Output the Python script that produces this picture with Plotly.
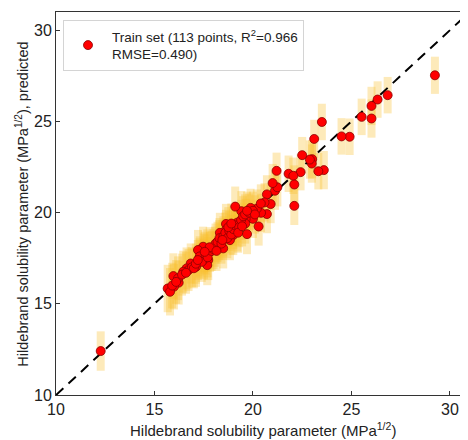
import plotly.graph_objects as go

# Measured (x) vs predicted (y) solubility parameter, with predictive spread
X_MEAS = [
    12.27, 29.24, 26.84, 26.33, 26.02, 26.02, 25.52, 24.91, 24.50, 23.50,
    23.11, 23.60, 23.32, 23.01, 22.99, 22.89, 22.50, 22.42, 21.81, 22.05,
    22.10, 22.10, 21.20, 21.12, 21.24, 21.00, 20.90, 20.71, 20.59, 20.71,
    20.41, 20.20, 20.29, 19.88, 20.00, 19.63, 19.61, 19.70, 19.41, 19.10,
    19.20, 19.20, 19.00, 19.00, 18.83, 18.63, 18.63, 18.32, 18.29, 18.49,
    18.07, 17.82, 17.68, 17.47, 17.51, 17.73, 17.68, 17.51, 17.21, 17.28,
    17.11, 16.84, 16.63, 16.73, 16.46, 16.23, 15.96, 15.99, 15.67, 15.79,
    16.90, 17.00, 17.30, 17.40, 17.60, 17.70, 17.90, 18.00, 18.10, 18.20,
    18.30, 18.40, 18.50, 18.60, 18.70, 18.80, 18.90, 19.00, 19.10, 19.30,
    19.40, 19.50, 19.60, 19.80, 20.00, 20.10, 20.40, 16.20, 16.40, 16.60,
    17.10, 17.20, 17.80, 18.15, 18.45, 18.75, 19.25, 19.45, 15.90, 16.10,
    17.55, 18.90, 19.70,
]
Y_PRED = [
    12.41, 27.53, 26.44, 26.20, 25.85, 25.16, 25.25, 24.16, 24.18, 24.97,
    24.04, 22.33, 22.27, 22.93, 22.69, 22.91, 23.15, 22.22, 22.13, 22.02,
    21.54, 20.37, 22.29, 21.20, 21.39, 21.62, 20.47, 21.00, 20.56, 19.92,
    19.99, 20.22, 19.24, 20.26, 19.66, 19.66, 19.40, 18.82, 20.08, 20.33,
    19.45, 18.97, 19.28, 18.77, 18.49, 19.38, 19.05, 18.89, 18.49, 18.04,
    18.13, 17.85, 17.98, 18.13, 17.76, 17.40, 17.12, 17.44, 17.95, 17.49,
    17.03, 17.21, 16.94, 16.85, 16.76, 16.16, 16.52, 15.94, 15.84, 15.66,
    17.00, 16.95, 17.60, 17.30, 17.70, 17.55, 17.90, 18.00, 18.30, 18.40,
    18.60, 18.30, 18.70, 18.90, 18.60, 19.00, 18.80, 19.10, 19.30, 19.20,
    19.60, 19.80, 19.90, 20.00, 20.10, 19.90, 20.50, 16.40, 16.60, 16.70,
    17.20, 17.40, 18.10, 17.90, 18.50, 19.20, 18.90, 19.25, 16.00, 16.20,
    17.85, 19.40, 20.10,
]
Y_SPREAD = [
    1.08, 1.02, 1.00, 1.00, 1.05, 1.05, 1.00, 1.00, 1.00, 1.00,
    1.05, 1.05, 1.00, 1.05, 1.05, 1.05, 1.00, 1.00, 1.00, 1.00,
    1.05, 1.05, 1.00, 1.05, 1.05, 1.05, 1.05, 1.05, 1.05, 1.05,
    1.05, 1.05, 1.05, 1.05, 1.05, 1.10, 1.10, 1.10, 1.10, 1.10,
    1.10, 1.10, 1.10, 1.10, 1.10, 1.10, 1.10, 1.10, 1.10, 1.10,
    1.10, 1.10, 1.10, 1.10, 1.10, 1.10, 1.10, 1.10, 1.10, 1.10,
    1.10, 1.10, 1.15, 1.15, 1.15, 1.20, 1.25, 1.25, 1.30, 1.30,
    1.10, 1.10, 1.10, 1.10, 1.10, 1.10, 1.10, 1.10, 1.10, 1.10,
    1.10, 1.10, 1.10, 1.10, 1.10, 1.10, 1.10, 1.10, 1.10, 1.10,
    1.10, 1.10, 1.10, 1.05, 1.05, 1.05, 1.05, 1.20, 1.15, 1.15,
    1.10, 1.10, 1.10, 1.10, 1.10, 1.10, 1.10, 1.10, 1.25, 1.20,
    1.10, 1.10, 1.05,
]
DIAG = [10, 31]

LEGEND_TEXT = "Train set (113 points, R<sup>2</sup>=0.966<br>RMSE=0.490)"
X_TITLE = "Hildebrand solubility parameter (MPa<sup>1/2</sup>)"
Y_TITLE = "Hildebrand solubility parameter (MPa<sup>1/2</sup>), predicted"
TICKS = [10, 15, 20, 25, 30]

FONT = "Liberation Sans, Arial, sans-serif"
TEXT_COLOR = "#222222"

fig = go.Figure()

# spread bars drawn as thick, translucent error bars without caps
fig.add_trace(go.Scatter(
    x=X_MEAS, y=Y_PRED,
    mode="markers",
    marker=dict(size=1, color="rgba(0,0,0,0)"),
    error_y=dict(type="data", array=Y_SPREAD, visible=True,
                 color="rgba(250,190,45,0.33)", thickness=8, width=0),
    showlegend=False, hoverinfo="skip",
))

fig.add_trace(go.Scatter(
    x=DIAG, y=DIAG,
    mode="lines",
    line=dict(color="black", width=2, dash="10px,7px"),
    showlegend=False, hoverinfo="skip",
))

fig.add_trace(go.Scatter(
    x=X_MEAS, y=Y_PRED,
    mode="markers",
    marker=dict(size=9, color="#ff0000", line=dict(color="#8a0000", width=0.8)),
    name=LEGEND_TEXT,
))

# the page body adds an 8 px margin, so the figure is 8 px smaller each way
fig.update_layout(
    width=460, height=432,
    margin=dict(l=48, r=0, t=4, b=45),
    plot_bgcolor="white",
    paper_bgcolor="white",
    font=dict(family=FONT, size=15, color=TEXT_COLOR),
    legend=dict(
        x=0.017, y=0.979, xanchor="left", yanchor="top",
        bordercolor="#d4d4d4", borderwidth=1,
        bgcolor="white",
        font=dict(size=13.5, color=TEXT_COLOR),
        itemwidth=38,
    ),
    annotations=[
        dict(text=X_TITLE, xref="paper", yref="paper", x=0.502, y=-0.091,
             xanchor="center", yanchor="middle", showarrow=False,
             font=dict(size=15)),
        dict(text=Y_TITLE, xref="paper", yref="paper", x=-0.0825, y=0.497,
             xanchor="center", yanchor="middle", showarrow=False,
             textangle=-90, font=dict(size=14.5)),
    ],
)

fig.update_xaxes(
    range=[10, 30.92],
    tickvals=TICKS,
    ticks="inside", ticklen=4, tickcolor="#333333",
    showline=True, linecolor="#333333", linewidth=1, mirror=True,
    showgrid=False, zeroline=False, automargin=False,
    tickfont=dict(size=16),
)
fig.update_yaxes(
    range=[10, 31.0],
    tickvals=TICKS,
    ticks="inside", ticklen=4, tickcolor="#333333",
    showline=True, linecolor="#333333", linewidth=1,
    showgrid=False, zeroline=False, automargin=False,
    tickfont=dict(size=16),
)

fig.write_html("out.html")
